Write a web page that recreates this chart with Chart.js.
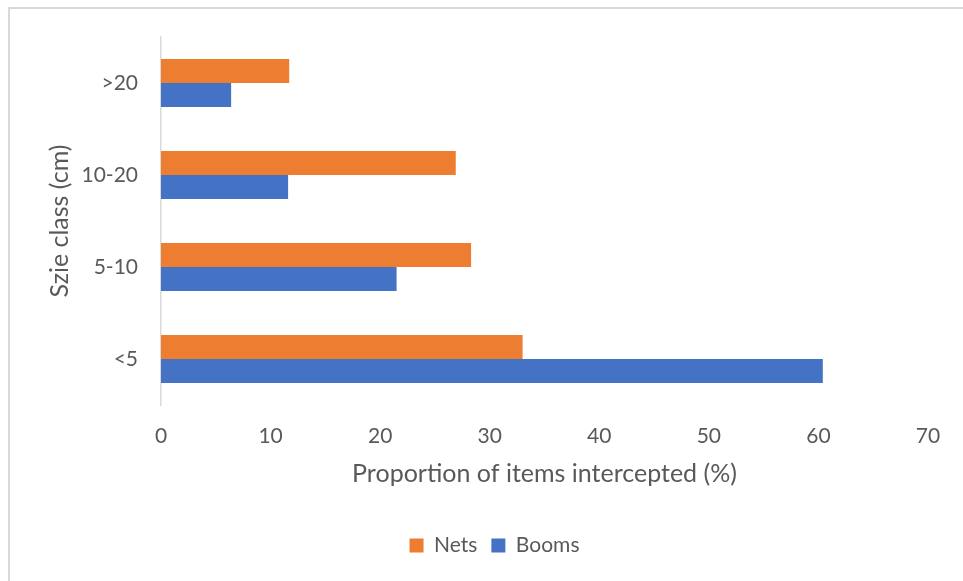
<!DOCTYPE html>
<html>
<head>
<meta charset="utf-8">
<script src="https://cdn.jsdelivr.net/npm/chart.js@4/dist/chart.umd.min.js"></script>
<style>
  html, body { margin: 0; padding: 0; background: #ffffff; }
  #wrap { width: 963px; height: 581px; position: relative; }
</style>
</head>
<body>
<div id="wrap"><canvas id="chart" width="963" height="581"></canvas></div>
<script>
// Size classes, top to bottom
const sizeClasses = ['>20', '10-20', '5-10', '<5'];
// Proportion of items intercepted (%)
const netsValues = [11.7, 26.9, 28.3, 33.0];
const boomsValues = [6.4, 11.6, 21.5, 60.4];
// Value axis range
const xMin = 0;
const xMax = 70;
const xStep = 10;

const textColor = '#595959';
const fontFamily = 'Lato, "Open Sans", sans-serif';

// Light grey frame around the chart area
const framePlugin = {
  id: 'frame',
  beforeDraw(chart) {
    const ctx = chart.ctx;
    ctx.save();
    ctx.fillStyle = '#ffffff';
    ctx.fillRect(0, 0, chart.width, chart.height);
    ctx.strokeStyle = '#d9d9d9';
    ctx.lineWidth = 2;
    ctx.strokeRect(9, 8, chart.width + 50, chart.height + 50);
    ctx.restore();
  }
};

new Chart(document.getElementById('chart'), {
  type: 'bar',
  data: {
    labels: sizeClasses,
    datasets: [
      { label: 'Nets', data: netsValues, backgroundColor: '#ED7D31', borderWidth: 0 },
      { label: 'Booms', data: boomsValues, backgroundColor: '#4472C4', borderWidth: 0 }
    ]
  },
  options: {
    indexAxis: 'y',
    responsive: false,
    animation: false,
    devicePixelRatio: 1,
    datasets: { bar: { categoryPercentage: 0.523, barPercentage: 1.0 } },
    layout: { padding: { left: 61, right: 35, top: 37, bottom: 15 } },
    plugins: {
      tooltip: { enabled: false },
      legend: {
        position: 'bottom',
        labels: {
          boxWidth: 14,
          boxHeight: 14,
          padding: 14,
          color: textColor,
          font: { family: fontFamily, size: 21 }
        }
      }
    },
    scales: {
      x: {
        min: xMin,
        max: xMax,
        ticks: {
          stepSize: xStep,
          padding: 19,
          color: textColor,
          font: { family: fontFamily, size: 21 }
        },
        grid: { display: false, drawTicks: false },
        border: { display: false },
        title: {
          display: true,
          text: 'Proportion of items intercepted (%)',
          color: textColor,
          font: { family: fontFamily, size: 25 },
          padding: { top: 0, bottom: 32 }
        },
        afterFit(scale) { scale.height = 116; }
      },
      y: {
        ticks: {
          padding: 23,
          color: textColor,
          font: { family: fontFamily, size: 21 }
        },
        grid: { display: false, drawTicks: false },
        border: { display: true, color: '#d9d9d9', width: 1.5 },
        title: {
          display: true,
          text: 'Szie class (cm)',
          color: textColor,
          font: { family: fontFamily, size: 25 },
          padding: { top: -16, bottom: 0 }
        },
        afterFit(scale) { scale.width = 100; }
      }
    }
  },
  plugins: [framePlugin]
});
</script>
</body>
</html>
